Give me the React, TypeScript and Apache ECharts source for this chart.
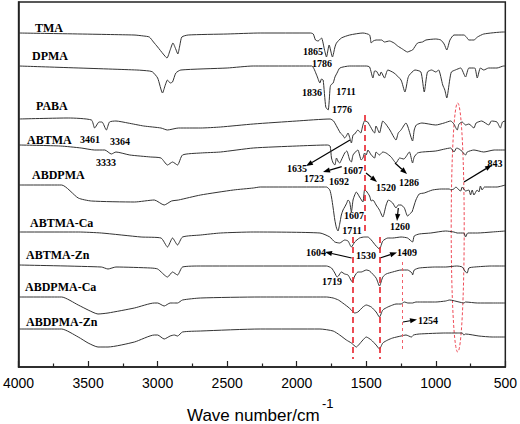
import React, { useEffect, useRef } from "react";
import * as echarts from "echarts";

type P = [number, number];

// Wavenumber (cm-1) vs offset transmittance (a.u.)
const TMA: P[] = [[4000,334],[3170,332],[3100,331],[3060,330],[3030,325],[3000,320],[2960,313],[2933,309],[2910,317],[2890,324],[2870,318],[2855,313],[2840,322],[2826,330],[2780,332],[2500,333],[2262,334],[1900,334],[1881,333],[1865,327],[1846,326],[1822,329],[1800,317],[1786,310],[1767,322],[1743,310],[1725,320],[1714,324],[1679,329],[1619,332],[1524,334],[1476,332],[1464,324],[1450,326],[1429,327],[1390,327],[1369,325],[1333,326],[1300,324],[1274,321],[1240,318],[1203,315],[1185,316],[1167,317],[1131,324],[1096,325],[1071,327],[1000,328],[964,327],[940,323],[921,317],[898,327],[869,332],[798,332],[780,330],[762,327],[726,327],[700,330],[655,333],[512,335],[500,335]];

const DPMA: P[] = [[4000,301],[3150,297],[3060,296],[3036,295],[3000,289],[2965,274],[2945,282],[2929,287],[2910,284],[2893,285],[2869,294],[2833,297],[2500,299],[2312,301],[1893,301],[1857,292],[1833,284],[1822,288],[1810,287],[1791,260],[1774,257],[1760,279],[1755,282],[1738,284],[1725,290],[1710,294],[1690,299],[1619,301],[1500,301],[1476,300],[1452,289],[1440,296],[1429,296],[1405,291],[1393,295],[1369,289],[1345,297],[1300,294],[1250,287],[1222,275],[1200,289],[1190,292],[1150,297],[1107,295],[1083,275],[1060,295],[1030,297],[1000,295],[980,297],[950,282],[935,277],[921,269],[900,287],[888,295],[860,297],[821,299],[786,290],[762,299],[720,299],[702,289],[679,299],[655,297],[620,299],[560,299],[512,301],[500,301]];

const PABA: P[] = [[4000,248],[3643,249],[3476,247],[3453,239],[3421,245],[3400,245],[3369,237],[3346,245],[3300,246],[3214,244],[3100,241],[2976,239],[2930,237],[2850,239],[2690,239],[2548,240],[2312,243],[2000,246],[1760,248],[1735,246],[1710,240],[1686,234],[1670,232],[1655,229],[1643,231],[1631,234],[1620,230],[1607,224],[1595,232],[1583,233],[1560,237],[1540,234],[1524,242],[1512,246],[1490,245],[1440,234],[1430,241],[1405,234],[1381,246],[1360,243],[1330,237],[1286,227],[1270,234],[1250,237],[1214,244],[1200,240],[1167,226],[1155,237],[1140,242],[1100,244],[1000,242],[940,244],[893,246],[870,243],[846,237],[833,243],[810,245],[786,242],[762,243],[726,239],[710,244],[670,246],[619,242],[600,246],[560,245],[536,239],[520,245],[500,246]];

const ABTMA: P[] = [[4000,222],[3700,221],[3550,219],[3453,217],[3380,217],[3333,213],[3300,215],[3200,212],[3050,210],[2976,209],[2929,202],[2893,205],[2857,202],[2821,212],[2691,214],[2548,215],[2312,219],[2000,221],[1780,222],[1760,221],[1750,209],[1738,204],[1726,202],[1714,209],[1700,205],[1691,204],[1679,207],[1655,214],[1640,216],[1619,207],[1607,205],[1595,212],[1571,216],[1560,217],[1536,207],[1524,209],[1512,214],[1500,212],[1488,217],[1464,212],[1440,209],[1429,215],[1405,212],[1381,215],[1357,214],[1321,210],[1286,204],[1260,209],[1230,208],[1190,215],[1167,204],[1155,210],[1131,214],[1096,215],[1000,216],[893,219],[869,215],[850,219],[821,217],[786,212],[774,215],[726,217],[655,215],[580,217],[500,217]];

const ABDPMA: P[] = [[4000,182],[3691,182],[3571,169],[3476,166],[3167,165],[3024,167],[2953,162],[2900,166],[2850,167],[2691,172],[2455,177],[2312,179],[2262,180],[1800,180],[1786,180],[1762,177],[1750,170],[1738,159],[1726,147],[1714,139],[1703,136],[1691,143],[1679,152],[1667,157],[1655,160],[1640,164],[1631,167],[1619,165],[1607,155],[1595,167],[1583,172],[1571,175],[1548,170],[1524,165],[1512,177],[1500,176],[1476,171],[1464,166],[1452,167],[1429,162],[1405,157],[1381,150],[1357,162],[1340,167],[1310,164],[1286,159],[1270,162],[1250,162],[1226,159],[1203,151],[1180,154],[1171,155],[1143,167],[1119,173],[1083,174],[1024,177],[960,178],[900,178],[893,177],[870,178],[855,180],[833,177],[821,176],[810,180],[786,176],[762,177],[750,172],[738,177],[726,172],[702,177],[690,175],[679,181],[667,177],[650,180],[600,180],[560,180],[500,182]];

const ABTMA_Ca: P[] = [[4000,135],[3571,135],[3405,134],[3119,130],[2976,129],[2929,120],[2893,129],[2857,122],[2821,130],[2691,132],[2548,134],[2312,135],[1833,134],[1762,130],[1726,125],[1691,124],[1655,127],[1631,126],[1607,120],[1583,125],[1548,129],[1512,130],[1488,130],[1464,127],[1429,121],[1405,118],[1381,126],[1345,129],[1310,129],[1250,130],[1203,129],[1167,125],[1155,131],[1119,133],[1036,134],[929,136],[870,135],[846,134],[798,134],[786,130],[770,134],[700,134],[595,135],[500,136]];

const ABTMA_Zn: P[] = [[4000,102],[3405,100],[3357,98],[3300,100],[3050,99],[3000,98],[2929,90],[2893,95],[2857,92],[2821,100],[2691,101],[1786,101],[1750,99],[1726,94],[1710,90],[1700,91],[1679,95],[1655,93],[1631,92],[1600,85],[1583,91],[1560,95],[1536,95],[1500,97],[1476,96],[1429,89],[1405,81],[1381,90],[1357,93],[1310,95],[1250,97],[1203,97],[1171,94],[1167,92],[1155,97],[1119,99],[1000,100],[929,100],[850,101],[810,100],[786,95],[774,94],[762,99],[720,100],[600,101],[500,101]];

const ABDPMA_Ca: P[] = [[4000,70],[3691,70],[3571,62],[3500,57],[3429,53],[3357,54],[3167,59],[3024,64],[3000,64],[2953,61],[2910,64],[2880,64],[2857,64],[2821,67],[2691,69],[2262,70],[1786,70],[1738,69],[1700,67],[1679,65],[1631,60],[1607,57],[1583,54],[1560,55],[1524,60],[1500,62],[1464,60],[1429,55],[1405,50],[1381,57],[1345,60],[1310,62],[1286,63],[1250,63],[1226,65],[1200,64],[1167,64],[1143,65],[1119,65],[1000,65],[929,66],[900,67],[833,65],[798,64],[786,65],[700,64],[595,64],[500,64]];

const ABDPMA_Zn: P[] = [[4000,38],[3691,38],[3571,30],[3500,24],[3429,20],[3357,20],[3167,25],[3024,32],[3000,32],[2953,28],[2910,31],[2880,32],[2857,31],[2821,35],[2691,36],[2262,38],[1833,38],[1738,36],[1691,32],[1643,27],[1607,24],[1571,20],[1555,22],[1524,27],[1500,30],[1464,27],[1429,22],[1405,18],[1381,24],[1345,27],[1310,29],[1250,31],[1214,32],[1175,30],[1160,32],[1119,33],[929,34],[846,34],[810,34],[798,32],[786,33],[690,31],[595,30],[500,30]];

const SERIES: [string, P[]][] = [
  ["TMA", TMA], ["DPMA", DPMA], ["PABA", PABA], ["ABTMA", ABTMA], ["ABDPMA", ABDPMA],
  ["ABTMA-Ca", ABTMA_Ca], ["ABTMA-Zn", ABTMA_Zn], ["ABDPMA-Ca", ABDPMA_Ca], ["ABDPMA-Zn", ABDPMA_Zn],
];

const X_TICKS = [4000, 3500, 3000, 2500, 2000, 1500, 1000, 500];

// reference lines: [wavenumber, from, to, thick]
const REF_LINES: [number, number, number, boolean][] = [
  [1512, 252, 134, true],
  [1600, 130, 8, true],
  [1405, 130, 8, true],
  [1244, 105, 17, false],
];

const SERIF = "'Times New Roman', 'Liberation Serif', serif";
const SANS = "Arial, 'Liberation Sans', sans-serif";

const NAME_LABELS: [string, number, number][] = [
  ["TMA", 35, 28], ["DPMA", 32, 56], ["PABA", 36, 106], ["ABTMA", 27, 140], ["ABDPMA", 32, 175],
  ["ABTMA-Ca", 30, 223], ["ABTMA-Zn", 26, 255], ["ABDPMA-Ca", 25, 287], ["ABDPMA-Zn", 26, 322],
];

const PEAK_LABELS: [string, number, number][] = [
  ["1865", 313, 51], ["1786", 322, 63], ["1836", 312, 92], ["1711", 346, 91], ["1776", 342, 109],
  ["3461", 90, 139], ["3364", 120, 141], ["3333", 106, 162],
  ["1635", 297, 168], ["1723", 314, 178], ["1692", 339, 181], ["1607", 353, 170],
  ["1520", 386, 187], ["1286", 409, 182], ["843", 495, 163],
  ["1607", 354, 215], ["1711", 352, 230], ["1260", 400, 226],
  ["1604", 316, 252], ["1530", 366, 255], ["1409", 407, 252],
  ["1719", 332, 281], ["1254", 428, 320],
];

const ARROWS: [number, number, number, number][] = [
  [350, 140, 306, 166], [341.7, 166.7, 323, 172], [366, 173, 377, 182], [395, 163, 407, 174],
  [464, 182, 492, 165], [398.3, 208, 397, 221], [351.7, 258, 325, 252], [380, 258, 397, 252.5],
  [403, 322, 417, 319.5],
];

function arrow(x1: number, y1: number, x2: number, y2: number) {
  const a = Math.atan2(y2 - y1, x2 - x1);
  const L = 7, W = 2.6;
  const c = Math.cos(a), s = Math.sin(a);
  const bx = x2 - L * c, by = y2 - L * s;
  return [
    { type: "line", shape: { x1, y1, x2: bx, y2: by }, style: { stroke: "#000", lineWidth: 1.2 }, silent: true },
    {
      type: "polygon",
      shape: { points: [[x2, y2], [bx - W * s, by + W * c], [bx + W * s, by - W * c]] },
      style: { fill: "#000" },
      silent: true,
    },
  ];
}

export default function App() {
  const ref = useRef<HTMLDivElement>(null);
  useEffect(() => {
    if (!ref.current) return;
    const chart = echarts.init(ref.current, null, { renderer: "svg" });
    const graphic: any[] = [];
    NAME_LABELS.forEach(([t, x, y]) =>
      graphic.push({
        type: "text", x, y, silent: true,
        style: { text: t, font: `bold 12px ${SERIF}`, fill: "#000", textAlign: "left", textVerticalAlign: "middle" },
      })
    );
    PEAK_LABELS.forEach(([t, x, y]) =>
      graphic.push({
        type: "text", x, y, silent: true,
        style: { text: t, font: `bold 10px ${SERIF}`, fill: "#000", textAlign: "center", textVerticalAlign: "middle" },
      })
    );
    ARROWS.forEach(([a, b, c, d]) => graphic.push(...arrow(a, b, c, d)));
    graphic.push({
      type: "ellipse", silent: true,
      shape: { cx: 457.7, cy: 227.5, rx: 6.5, ry: 124.5 },
      style: { fill: "none", stroke: "#ef4b57", lineWidth: 1, lineDash: [3, 2] },
    });
    graphic.push({
      type: "text", x: 187, y: 415, silent: true,
      style: { text: "Wave number/cm", font: `17px ${SANS}`, fill: "#000", textAlign: "left", textVerticalAlign: "middle" },
    });
    graphic.push({
      type: "text", x: 322, y: 403, silent: true,
      style: { text: "-1", font: `13px ${SANS}`, fill: "#000", textAlign: "left", textVerticalAlign: "middle" },
    });

    const series: any[] = SERIES.map(([name, data], i) => ({
      name, type: "line", data, showSymbol: false, smooth: 0.2,
      lineStyle: { color: "#333", width: 1 }, itemStyle: { color: "#333" },
      silent: true,
      ...(i === 0
        ? {
            markLine: {
              silent: true, symbol: "none", animation: false, label: { show: false },
              data: REF_LINES.map(([w, a, b, thick]) => [
                { coord: [w, a], lineStyle: { color: thick ? "#e8202a" : "#f2606a", width: thick ? 1.6 : 1, type: thick ? [6, 4] : [3, 3] } },
                { coord: [w, b] },
              ]),
            },
          }
        : {}),
    }));

    chart.setOption({
      animation: false,
      grid: { left: 17, right: 13, top: 2, bottom: 57, show: true, borderColor: "#222", borderWidth: 1.5, backgroundColor: "transparent" },
      xAxis: {
        type: "value", min: 500, max: 4000, interval: 500, inverse: true,
        axisLine: { show: true, lineStyle: { color: "#222", width: 1.5 } },
        axisTick: { show: true, inside: true, length: 6, lineStyle: { color: "#222", width: 1.2 } },
        minorTick: { show: true, splitNumber: 2, length: 3.5, lineStyle: { color: "#222", width: 1.2 } },
        splitLine: { show: false },
        axisLabel: { color: "#000", fontSize: 14, fontFamily: SANS, margin: 9, formatter: (v: number) => String(v) },
      },
      yAxis: {
        type: "value", min: 0, max: 365,
        axisLine: { show: true, lineStyle: { color: "#222", width: 1.5 } },
        axisTick: { show: false }, axisLabel: { show: false }, splitLine: { show: false },
      },
      series,
      graphic,
    });
    return () => chart.dispose();
  }, []);
  return <div ref={ref} style={{ width: 520, height: 424, position: "absolute", left: 0, top: 0 }} />;
}
